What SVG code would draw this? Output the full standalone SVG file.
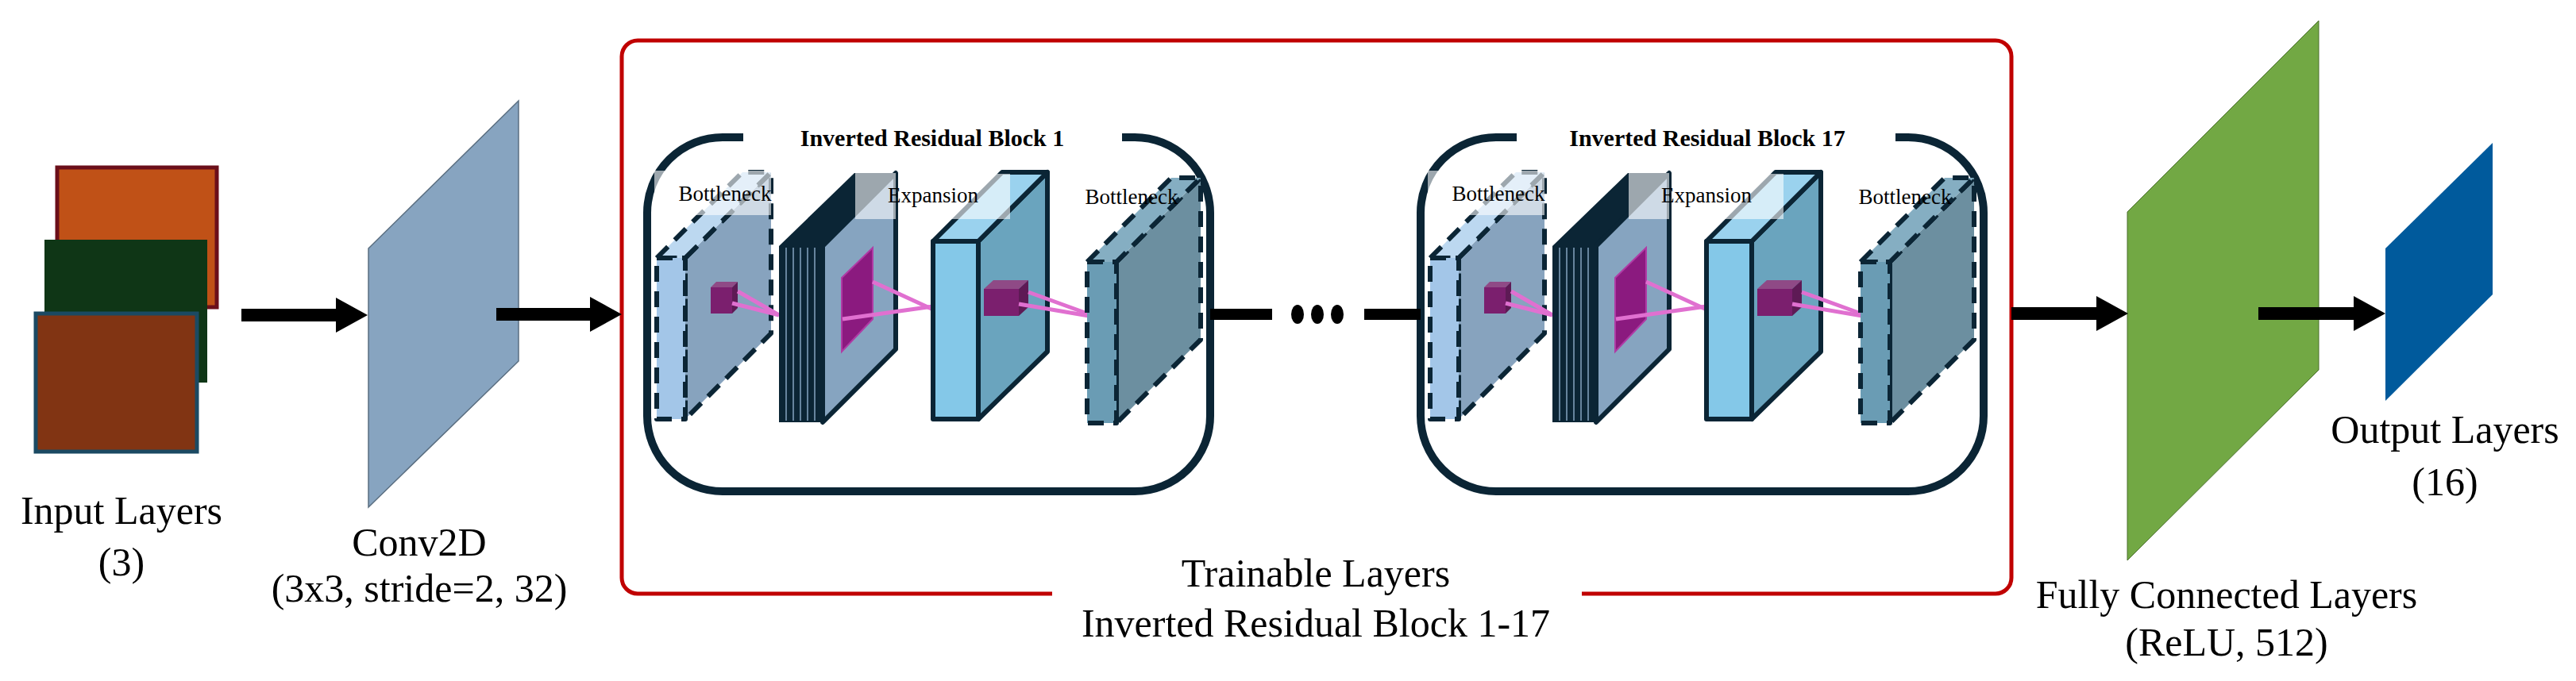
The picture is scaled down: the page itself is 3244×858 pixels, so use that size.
<svg xmlns="http://www.w3.org/2000/svg" xmlns:xlink="http://www.w3.org/1999/xlink" width="3244" height="858" viewBox="0 0 3244 858">
<style>
.lbl{font-family:"Liberation Serif","Times New Roman",serif;font-size:50px;fill:#000;text-anchor:middle}
.sm{font-family:"Liberation Serif","Times New Roman",serif;font-size:27px;fill:#000;text-anchor:middle}
.ttl{font-family:"Liberation Serif","Times New Roman",serif;font-size:30px;font-weight:bold;fill:#000;text-anchor:middle}
.dash{stroke:#0b2535;stroke-width:6;stroke-dasharray:20 12;stroke-linejoin:round}
.solid{stroke:#0b2535;stroke-width:6;stroke-linejoin:round}
.pink{stroke:#e070d0;stroke-width:5}
.ov{fill:#fff;opacity:.6}
.conn{stroke:#000;stroke-width:16;fill:none}
</style>
<defs>
<marker id="ah" viewBox="0 0 40 44" refX="10" refY="22" markerWidth="40" markerHeight="44" markerUnits="userSpaceOnUse" orient="auto"><path d="M0,0 L40,22 L0,44 Z" fill="#000"/></marker>
<g id="blk">
<path d="M1413,173 H1429 A95,95 0 0 1 1524,268 V524 A95,95 0 0 1 1429,619 H910 A95,95 0 0 1 815,524 V268 A95,95 0 0 1 910,173 H936" fill="none" stroke="#0b2535" stroke-width="10"/>
<polygon points="863,325 971,217 971,420 863,528" fill="#87a3be" class="dash"/>
<polygon points="827,325 935,217 971,217 863,325" fill="#bcd8f0" class="dash"/>
<rect x="827" y="325" width="36" height="203" fill="#a3c6e8" class="dash"/>
<rect x="824" y="215" width="147" height="56" class="ov"/>
<text x="913" y="253" class="sm">Bottleneck</text>
<rect x="895" y="362" width="27" height="33" fill="#7b1f6e"/>
<polygon points="895,362 902,355 929,355 922,362" fill="#8f4a86"/>
<polygon points="922,362 929,355 929,388 922,395" fill="#5e1a55"/>
<line x1="929" y1="367" x2="981" y2="397" class="pink"/>
<line x1="922" y1="382" x2="981" y2="397" class="pink"/>
<polygon points="981,310 1076,218 1128,218 1036,310" fill="#0b2535"/>
<rect x="981" y="310" width="55" height="222" fill="#0b2535"/>
<g stroke="#86a4c0" stroke-width="1.5">
<line x1="990" y1="312" x2="990" y2="530"/><line x1="999" y1="312" x2="999" y2="530"/><line x1="1008" y1="312" x2="1008" y2="530"/><line x1="1017" y1="312" x2="1017" y2="530"/><line x1="1026" y1="312" x2="1026" y2="530"/>
</g>
<polygon points="1036,310 1128,218 1128,440 1036,532" fill="#86a4c0" class="solid"/>
<rect x="1077" y="218" width="51" height="58" class="ov"/>
<polygon points="1060,350 1099,312 1099,402 1060,443" fill="#8b1a7f" stroke="#b03aa5" stroke-width="2"/>
<line x1="1099" y1="355" x2="1175" y2="390" class="pink"/>
<line x1="1061" y1="402" x2="1175" y2="386" class="pink"/>
<polygon points="1232,304 1319,217 1319,443 1232,528" fill="#6aa4be" class="solid"/>
<polygon points="1175,304 1262,217 1319,217 1232,304" fill="#9ad2ee" class="solid"/>
<rect x="1175" y="304" width="57" height="224" fill="#84c8e8" class="solid"/>
<rect x="1197" y="219" width="75" height="57" class="ov"/>
<text x="1175" y="255" class="sm">Expansion</text>
<rect x="1239" y="364" width="44" height="34" fill="#7b1f6e"/>
<polygon points="1239,364 1251,353 1295,353 1283,364" fill="#8f4a86"/>
<polygon points="1283,364 1295,353 1295,387 1283,398" fill="#5e1a55"/>
<line x1="1295" y1="368" x2="1383" y2="400" class="pink"/>
<line x1="1283" y1="383" x2="1383" y2="400" class="pink"/>
<polygon points="1406,330 1512,224 1512,428 1406,533" fill="#6c8fa0" class="dash"/>
<polygon points="1369,330 1475,224 1512,224 1406,330" fill="#85aec2" class="dash"/>
<rect x="1369" y="330" width="37" height="203" fill="#6a9cb4" class="dash"/>
<text x="1425" y="257" class="sm">Bottleneck</text>
</g>
</defs>
<rect width="3244" height="858" fill="#fff"/>
<g id="input">
<rect x="72" y="211" width="201" height="176" fill="#c05117" stroke="#6b0f1a" stroke-width="5"/>
<rect x="56" y="302" width="205" height="180" fill="#0f3616"/>
<rect x="45" y="395" width="203" height="174" fill="#813413" stroke="#1b4a63" stroke-width="5"/>
<text x="153" y="660" class="lbl">Input Layers</text>
<text x="153" y="725" class="lbl">(3)</text>
</g>
<g id="conv2d">
<polygon points="464,313 653,127 653,455 464,639" fill="#87a4c0" stroke="#5a6e80" stroke-width="1.5"/>
<text x="528" y="700" class="lbl">Conv2D</text>
<text x="528" y="758" class="lbl">(3x3, stride=2, 32)</text>
</g>
<g id="trainable">
<path d="M1325,748 H803 A20,20 0 0 1 783,728 V71 A20,20 0 0 1 803,51 H2513 A20,20 0 0 1 2533,71 V728 A20,20 0 0 1 2513,748 H1992" fill="none" stroke="#c00000" stroke-width="5"/>
<text x="1657" y="739" class="lbl">Trainable Layers</text>
<text x="1657" y="802" class="lbl">Inverted Residual Block 1-17</text>
</g>
<g id="block1">
<use xlink:href="#blk"/>
<text x="1174" y="184" class="ttl">Inverted Residual Block 1</text>
</g>
<g id="block17">
<use xlink:href="#blk" transform="translate(974,0)"/>
<text x="2150" y="184" class="ttl">Inverted Residual Block 17</text>
</g>
<g id="fc">
<polygon points="2679,267 2920,26 2920,466 2679,706" fill="#72a844" stroke="#4a6e2c" stroke-width="1"/>
<text x="2804" y="766" class="lbl">Fully Connected Layers</text>
<text x="2804" y="826" class="lbl">(ReLU, 512)</text>
</g>
<g id="output">
<polygon points="3004,313 3139,180 3139,371 3004,505" fill="#005a9c"/>
<text x="3079" y="558" class="lbl">Output Layers</text>
<text x="3079" y="624" class="lbl">(16)</text>
</g>
<g id="connectors">
<line x1="304" y1="397" x2="433" y2="397" class="conn" marker-end="url(#ah)"/>
<line x1="625" y1="396" x2="753" y2="396" class="conn" marker-end="url(#ah)"/>
<line x1="1524" y1="396" x2="1602" y2="396" stroke="#000" stroke-width="14"/>
<ellipse cx="1634" cy="396" rx="8" ry="12" fill="#000"/>
<ellipse cx="1659" cy="396" rx="8" ry="12" fill="#000"/>
<ellipse cx="1684" cy="396" rx="8" ry="12" fill="#000"/>
<line x1="1718" y1="396" x2="1789" y2="396" stroke="#000" stroke-width="14"/>
<line x1="2533" y1="395" x2="2650" y2="395" class="conn" marker-end="url(#ah)"/>
<line x1="2844" y1="395" x2="2974" y2="395" class="conn" marker-end="url(#ah)"/>
</g>
</svg>
